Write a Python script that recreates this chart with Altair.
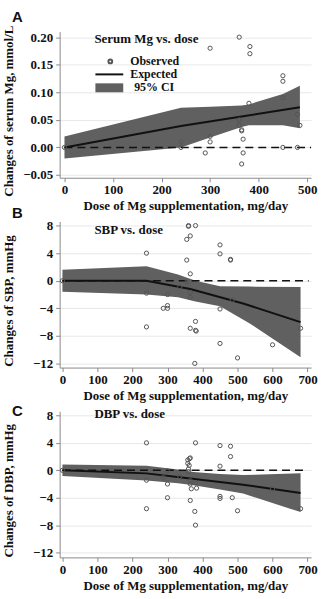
import altair as alt
import pandas as pd

# ---------------- Panel A: serum Mg ----------------
obs_dose_a = [0, 240, 240, 290, 300, 300, 300, 360, 360, 360, 365, 365, 368, 368, 365,
              382, 382, 380, 450, 450, 450, 450, 480, 480, 485]
obs_mg_a = [0.0, 0.01, 0.0, -0.01, 0.18, 0.02, 0.01, 0.20, 0.05, 0.04, 0.032, 0.03, 0.015, -0.01, -0.03,
            0.183, 0.17, 0.08, 0.13, 0.12, 0.09, 0.0, 0.06, 0.0, 0.04]
fit_dose_a = [0, 240, 365, 485]
fit_mg_a = [0.0, 0.039, 0.056, 0.073]
ci_dose_a = [0, 240, 300, 365, 380, 450, 485]
ci_lo_a = [-0.02, 0.0, 0.018, 0.037, 0.04, 0.04, 0.035]
ci_hi_a = [0.02, 0.072, 0.074, 0.076, 0.078, 0.097, 0.112]

# ---------------- Panel B: SBP ----------------
obs_dose_b = [0, 240, 240, 240, 300, 288, 300, 300, 335, 360, 360, 355, 365, 355, 365, 355,
              365, 365, 365, 380, 380, 380, 382, 378, 450, 450, 450, 450, 480, 480, 485,
              500, 600, 680]
obs_sbp_b = [0, 4.0, -1.8, -6.7, -2.0, -4.0, -3.6, -4.0, -0.9, 8.0, 7.9, 6.0, 6.5, 3.0, 1.0, -0.2,
             -1.7, -2.4, -6.9, 8.0, -5.9, -7.2, -7.3, -12.0, 5.2, 3.9, -4.1, -9.1, 3.1, 3.0, -2.8,
             -11.2, -9.3, -6.9]
fit_dose_b = [0, 240, 365, 516, 680]
fit_sbp_b = [0.0, 0.0, -1.2, -3.3, -6.0]
ci_dose_b = [0, 240, 330, 380, 450, 535, 680]
ci_lo_b = [-1.6, -2.0, -2.4, -3.0, -3.7, -6.2, -11.1]
ci_hi_b = [1.6, 2.1, 0.9, 0.0, -0.8, -0.85, -0.9]

# ---------------- Panel C: DBP ----------------
obs_dose_c = [0, 240, 240, 240, 300, 300, 300, 288, 335, 358, 358, 363, 365, 362, 360, 360,
              365, 365, 368, 365, 378, 380, 380, 383, 380, 450, 450, 450, 450, 480, 480, 485,
              500, 600, 680]
obs_dbp_c = [0, 4.0, -1.45, -5.6, -0.1, -2.0, -4.0, -1.0, -0.9, 1.5, 1.0, 1.7, 1.8, 0.7, 0.2, -0.2,
             -1.5, -2.0, -2.7, -4.4, -6.0, 4.0, -1.8, -2.6, -8.0, 3.6, 0.6, -3.8, -4.1, 3.5, 2.0, -4.0,
             -5.9, -2.7, -5.6]
fit_dose_c = [0, 240, 365, 516, 680]
fit_dbp_c = [0.0, -0.45, -1.2, -2.1, -3.3]
ci_dose_c = [0, 240, 330, 374, 450, 516, 680]
ci_lo_c = [-0.85, -1.5, -1.9, -2.2, -2.8, -3.4, -6.1]
ci_hi_c = [0.85, 0.65, 0.1, -0.24, -0.55, -0.7, -0.45]

SERIF = "Liberation Serif"
SANS = "Liberation Sans"
BAND = "#606060"
PT = "#555555"
W, H = 253, 147


def panel(obs_x, obs_y, fit_x, fit_y, ci_x, ci_lo, ci_hi, *, x_dom, x_ticks, zero_end,
          y_dom, y_ticks, y_fmt, y_title, heading, heading_y, letter, letter_y, legend=False):
    pts = pd.DataFrame({"dose": obs_x, "val": obs_y})
    fit = pd.DataFrame({"dose": fit_x, "val": fit_y})
    ci = pd.DataFrame({"dose": ci_x, "lo": ci_lo, "hi": ci_hi})
    zero = pd.DataFrame({"x": [0], "x2": [zero_end], "y": [0]})

    xs = alt.Scale(domain=x_dom, nice=False, zero=False)
    ys = alt.Scale(domain=y_dom, nice=False, zero=False)
    x_axis = alt.Axis(values=x_ticks, title="Dose of Mg supplementation, mg/day", grid=False,
                      labelFlush=False, labelOverlap=False)
    y_axis = alt.Axis(values=y_ticks, format=y_fmt, title=y_title, grid=True,
                      labelOverlap=False, titleX=-44, titleY=H / 2 + 6)

    band = alt.Chart(ci).mark_area(color=BAND, opacity=1).encode(
        x=alt.X("dose:Q", scale=xs, axis=x_axis),
        y=alt.Y("lo:Q", scale=ys, axis=y_axis),
        y2="hi:Q",
    )
    zline = alt.Chart(zero).mark_rule(color="#111", strokeDash=[8, 5], strokeWidth=1.6).encode(
        x=alt.X("x:Q", scale=xs, axis=x_axis), x2="x2:Q",
        y=alt.Y("y:Q", scale=ys, axis=y_axis))
    fline = alt.Chart(fit).mark_line(color="#111", strokeWidth=2).encode(
        x=alt.X("dose:Q", scale=xs, axis=x_axis), y=alt.Y("val:Q", scale=ys, axis=y_axis))
    dots = alt.Chart(pts).mark_point(shape="circle", filled=False, size=18, color=PT,
                                     strokeWidth=1, opacity=1).encode(
        x=alt.X("dose:Q", scale=xs, axis=x_axis), y=alt.Y("val:Q", scale=ys, axis=y_axis))

    one = alt.Data(values=[{}])
    head = alt.Chart(one).mark_text(text=heading, font=SERIF, fontWeight="bold", fontSize=13,
                                    align="left", baseline="middle", color="#111").encode(
        x=alt.value(35), y=alt.value(heading_y))
    let = alt.Chart(one).mark_text(text=letter, font=SANS, fontWeight="bold", fontSize=15,
                                   align="left", baseline="alphabetic", color="#111").encode(
        x=alt.value(-48), y=alt.value(letter_y))

    layers = [band, zline, fline, dots, head, let]
    if legend:
        lg_font = dict(font=SERIF, fontWeight="bold", fontSize=12, align="left",
                       baseline="middle", color="#111")
        layers += [
            alt.Chart(one).mark_point(shape="circle", filled=False, size=14, color=PT,
                                      opacity=1).encode(x=alt.value(51), y=alt.value(30)),
            alt.Chart(one).mark_text(text="Observed", **lg_font).encode(
                x=alt.value(71), y=alt.value(30)),
            alt.Chart(one).mark_rule(color="#111", strokeWidth=2).encode(
                x=alt.value(36), x2=alt.value(64), y=alt.value(43)),
            alt.Chart(one).mark_text(text="Expected", **lg_font).encode(
                x=alt.value(71), y=alt.value(43)),
            alt.Chart(one).mark_rect(color=BAND).encode(
                x=alt.value(36), x2=alt.value(64), y=alt.value(52), y2=alt.value(61)),
            alt.Chart(one).mark_text(text="95% CI", **lg_font).encode(
                x=alt.value(75), y=alt.value(56)),
        ]
    return alt.layer(*layers).properties(width=W, height=H)


pa = panel(obs_dose_a, obs_mg_a, fit_dose_a, fit_mg_a, ci_dose_a, ci_lo_a, ci_hi_a,
           x_dom=[-10, 508], x_ticks=[0, 100, 200, 300, 400, 500], zero_end=508,
           y_dom=[-0.055, 0.21], y_ticks=[-0.05, 0, 0.05, 0.10, 0.15, 0.20], y_fmt=".2f",
           y_title="Changes of serum Mg, mmol/L", heading="Serum Mg vs. dose", heading_y=7,
           letter="A", letter_y=-10, legend=True)
pb = panel(obs_dose_b, obs_sbp_b, fit_dose_b, fit_sbp_b, ci_dose_b, ci_lo_b, ci_hi_b,
           x_dom=[-8, 710], x_ticks=[0, 100, 200, 300, 400, 500, 600, 700], zero_end=703,
           y_dom=[-12.6, 8.6], y_ticks=[-12, -8, -4, 0, 4, 8], y_fmt="d",
           y_title="Changes of SBP, mmHg", heading="SBP vs. dose", heading_y=9,
           letter="B", letter_y=-3)
pc = panel(obs_dose_c, obs_dbp_c, fit_dose_c, fit_dbp_c, ci_dose_c, ci_lo_c, ci_hi_c,
           x_dom=[-8, 710], x_ticks=[0, 100, 200, 300, 400, 500, 600, 700], zero_end=700,
           y_dom=[-12.7, 8.6], y_ticks=[-12, -8, -4, 0, 4, 8], y_fmt="d",
           y_title="Changes of DBP, mmHg", heading="DBP vs. dose", heading_y=3,
           letter="C", letter_y=5)

chart = alt.vconcat(pa, pb, pc, spacing=44, bounds="flush").properties(
    padding={"left": 2, "top": 8, "right": 4, "bottom": 2}
).configure_view(stroke=None).configure_axis(
    labelFont=SERIF, labelFontWeight="bold", labelFontSize=13, labelColor="#111",
    titleFont=SERIF, titleFontWeight="bold", titleFontSize=13, titleColor="#111",
    domainColor="#8a8a8a", tickColor="#8a8a8a", tickSize=4, labelPadding=2,
    gridColor="#e8e8e8", titlePadding=3, labelOverlap=False,
).configure_axisY(labelPadding=3)

chart.save("out.html", embed_options={"renderer": "svg", "actions": False})
